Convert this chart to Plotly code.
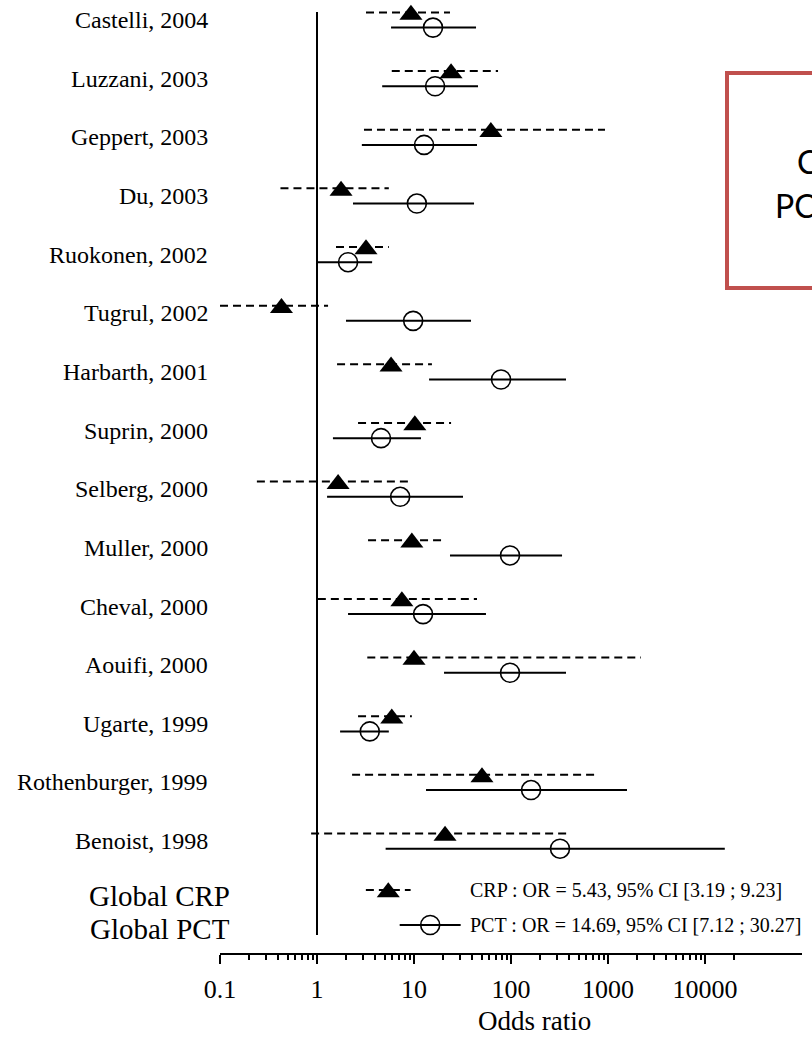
import plotly.graph_objects as go

# ---------------- data ----------------
studies = ["Castelli, 2004", "Luzzani, 2003", "Geppert, 2003", "Du, 2003",
           "Ruokonen, 2002", "Tugrul, 2002", "Harbarth, 2001", "Suprin, 2000",
           "Selberg, 2000", "Muller, 2000", "Cheval, 2000", "Aouifi, 2000",
           "Ugarte, 1999", "Rothenburger, 1999", "Benoist, 1998"]

crp_or = [9.3, 24.1, 62.0, 1.77, 3.2, 0.43, 5.8, 10.2, 1.65, 9.5, 7.5, 10.0, 5.9, 50.2, 20.9]
crp_lo = [3.2, 5.9, 3.05, 0.42, 1.57, 0.10, 1.61, 2.65, 0.24, 3.36, 1.02, 3.3, 2.65, 2.3, 0.87]
crp_hi = [23.5, 73.5, 931, 5.5, 5.5, 1.3, 15.3, 24.1, 8.7, 19.9, 44.6, 2188, 9.5, 789, 387]

pct_or = [15.7, 16.5, 12.7, 10.7, 2.09, 9.8, 78.9, 4.57, 7.2, 97.7, 12.4, 97.7, 3.5, 161, 320]
pct_lo = [5.8, 4.7, 2.9, 2.35, 0.98, 1.99, 14.3, 1.46, 1.27, 23.5, 2.09, 20.4, 1.73, 13.3, 5.1]
pct_hi = [43.6, 45.7, 44.6, 41.6, 3.7, 38.7, 369, 11.8, 32.0, 336, 55.2, 369, 5.5, 1570, 16000]

global_crp = [5.43, 3.19, 9.23]   # OR, low, high
global_pct = [14.69, 7.12, 30.27]
global_labels = ["Global CRP", "Global PCT"]
global_texts = ["CRP : OR = 5.43, 95% CI [3.19 ; 9.23]",
                "PCT : OR = 14.69, 95% CI [7.12 ; 30.27]"]

tick_vals = [0.1, 1, 10, 100, 1000, 10000]
tick_text = ["0.1", "1", "10", "100", "1000", "10000"]
x_title = "Odds ratio"
box_lines = ["CRP", "PCT"]

# ---------------- layout helpers ----------------
W, H = 812, 1037
ML, MR, MT, MB = 220, 10, 0, 84
PITCH = 58.65
ROW0 = 20.0
plot_h = H - MT - MB
plot_w = W - ML - MR
y_top = -ROW0 / PITCH
y_bot = (plot_h - ROW0) / PITCH

n = len(studies)
rows = list(range(n))
off = 0.13
y_crp = [r - off for r in rows]
y_pct = [r + off for r in rows]
g_crp_y = (890 - ROW0) / PITCH
g_pct_y = (925 - ROW0) / PITCH


def seg(lo, hi, ys):
    xs, yy = [], []
    for a, b, y in zip(lo, hi, ys):
        xs += [a, b, None]
        yy += [y, y, None]
    return xs, yy


serif = "Liberation Serif, Times New Roman, serif"
fig = go.Figure()

# CRP confidence intervals (dashed)
cx, cy = seg(crp_lo + [global_crp[1]], crp_hi + [global_crp[2]], y_crp + [g_crp_y])
fig.add_trace(go.Scatter(x=cx, y=cy, mode="lines",
                         line=dict(color="black", width=2, dash="8px,5px"),
                         hoverinfo="skip", showlegend=False))
# PCT confidence intervals (solid)
px_, py_ = seg(pct_lo + [global_pct[1]], pct_hi + [global_pct[2]], y_pct + [g_pct_y])
fig.add_trace(go.Scatter(x=px_, y=py_, mode="lines",
                         line=dict(color="black", width=2),
                         hoverinfo="skip", showlegend=False))
# CRP markers
fig.add_trace(go.Scatter(x=crp_or + [global_crp[0]], y=[y + 0.04 for y in y_crp] + [g_crp_y + 0.04],
                         mode="markers",
                         marker=dict(symbol="triangle-up", size=20, color="black"),
                         name="CRP", showlegend=False))
# PCT markers
fig.add_trace(go.Scatter(x=pct_or + [global_pct[0]], y=y_pct + [g_pct_y], mode="markers",
                         marker=dict(symbol="circle-open", size=19, color="black",
                                     line=dict(width=1.6, color="black")),
                         name="PCT", showlegend=False))

# vertical reference line at OR = 1
fig.add_shape(type="line", xref="x", yref="y", x0=1, x1=1,
              y0=(12 - ROW0) / PITCH, y1=(935 - ROW0) / PITCH,
              line=dict(color="black", width=2))

annotations = []
for r, name in zip(rows, studies):
    annotations.append(dict(x=0, xref="paper", y=r, yref="y", text=name,
                            xanchor="right", yanchor="middle", xshift=-10, showarrow=False,
                            font=dict(family=serif, size=24, color="black")))
for yy, lab, ys in zip([g_crp_y, g_pct_y], global_labels, [6, 4]):
    annotations.append(dict(x=0, xref="paper", y=yy, yref="y", text=lab,
                            xanchor="right", yanchor="middle", xshift=12, yshift=-ys,
                            showarrow=False,
                            font=dict(family=serif, size=29, color="black")))
for yy, txt in zip([g_crp_y, g_pct_y], global_texts):
    annotations.append(dict(x=(468 - ML) / plot_w, xref="paper", y=yy, yref="y",
                            text=txt, xanchor="left", yanchor="middle", showarrow=False,
                            font=dict(family=serif, size=20, color="black")))
# x title
annotations.append(dict(x=(534 - ML) / plot_w, xref="paper",
                        y=(plot_h - 1021) / plot_h, yref="paper", text=x_title,
                        xanchor="center", yanchor="middle", showarrow=False,
                        font=dict(family=serif, size=27, color="black")))
# red box text (cut by the page edge, as in the source image)
for xp, yp, txt in zip([795, 773], [161, 206], box_lines):
    annotations.append(dict(x=(xp - ML) / plot_w, xref="paper",
                            y=(plot_h - yp) / plot_h, yref="paper", text=txt,
                            xanchor="left", yanchor="middle", showarrow=False,
                            font=dict(family="Lato, Noto Sans, sans-serif", size=32, color="black")))

# red outlined box extending past the right edge
fig.add_shape(type="rect", xref="paper", yref="paper",
              x0=(727 - ML) / plot_w, x1=(900 - ML) / plot_w,
              y0=(plot_h - 288) / plot_h, y1=(plot_h - 73) / plot_h,
              line=dict(color="#C0504D", width=4), fillcolor="rgba(0,0,0,0)")

minor_vals = [m * 10 ** k for k in range(-1, 5) for m in range(2, 10)] + [20000]
minor_vals = [v for v in minor_vals if v <= 20000]

fig.update_layout(
    width=W, height=H,
    margin=dict(l=ML, r=MR, t=MT, b=MB, pad=0),
    paper_bgcolor="white", plot_bgcolor="white",
    showlegend=False,
    annotations=annotations,
    xaxis=dict(type="log", range=[-1, 5], tickvals=tick_vals, ticktext=tick_text,
               ticks="outside", ticklen=9, tickwidth=2, tickcolor="black",
               showline=True, linewidth=2, linecolor="black",
               showgrid=False, zeroline=False, ticklabelstandoff=3,
               tickfont=dict(family=serif, size=26, color="black"),
               minor=dict(tickvals=minor_vals, ticks="outside", ticklen=5,
                          tickwidth=1.5, tickcolor="black", showgrid=False)),
    yaxis=dict(range=[y_bot, y_top], showticklabels=False, showgrid=False,
               zeroline=False, showline=False, ticks=""),
)

fig.write_html("out.html")
